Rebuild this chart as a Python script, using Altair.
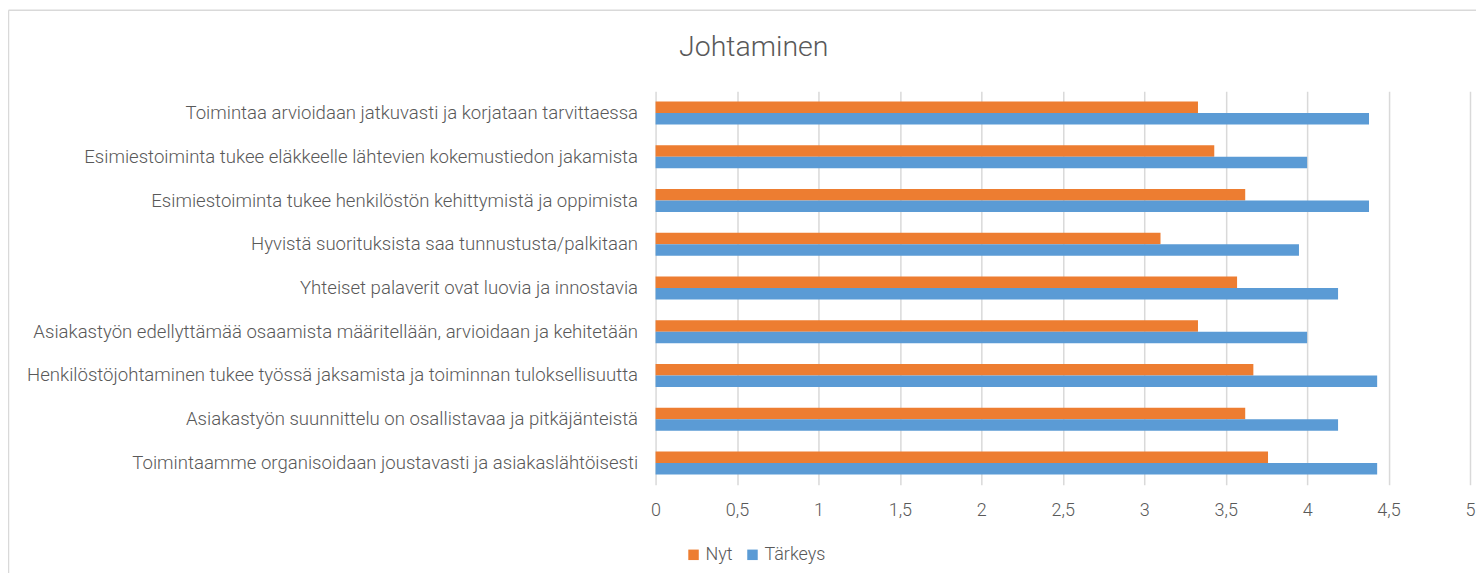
import altair as alt
import pandas as pd

categories = [
    "Toimintaa arvioidaan jatkuvasti ja korjataan tarvittaessa",
    "Esimiestoiminta tukee eläkkeelle lähtevien kokemustiedon jakamista",
    "Esimiestoiminta tukee henkilöstön kehittymistä ja oppimista",
    "Hyvistä suorituksista saa tunnustusta/palkitaan",
    "Yhteiset palaverit ovat luovia ja innostavia",
    "Asiakastyön edellyttämää osaamista määritellään, arvioidaan ja kehitetään",
    "Henkilöstöjohtaminen tukee työssä jaksamista ja toiminnan tuloksellisuutta",
    "Asiakastyön suunnittelu on osallistavaa ja pitkäjänteistä",
    "Toimintaamme organisoidaan joustavasti ja asiakaslähtöisesti",
]
nyt = [3.33, 3.43, 3.62, 3.10, 3.57, 3.33, 3.67, 3.62, 3.76]
tarkeys = [4.38, 4.00, 4.38, 3.95, 4.19, 4.00, 4.43, 4.19, 4.43]
series = ["Nyt", "Tärkeys"]
colors = ["#ED7D31", "#5B9BD5"]
ticks = [0, 0.5, 1, 1.5, 2, 2.5, 3, 3.5, 4, 4.5, 5]

rows = []
for c, a, b in zip(categories, nyt, tarkeys):
    rows.append({"kysymys": c, "sarja": series[0], "arvo": a})
    rows.append({"kysymys": c, "sarja": series[1], "arvo": b})
df = pd.DataFrame(rows)

font = "Roboto"
txt = "#595959"
fs = 18.6

bars = alt.Chart(df).mark_bar().encode(
    y=alt.Y(
        "kysymys:N", sort=categories, title=None,
        scale=alt.Scale(paddingInner=0.47, paddingOuter=0.235),
        axis=alt.Axis(domain=False, ticks=False, grid=False, labelPadding=18,
                      labelLimit=700, labelFontSize=fs, labelColor=txt,
                      labelFont=font, labelFontWeight=300),
    ),
    yOffset=alt.YOffset("sarja:N", sort=series, scale=alt.Scale(paddingInner=0, paddingOuter=0)),
    x=alt.X(
        "arvo:Q", title=None, scale=alt.Scale(domain=[0, 5], nice=False),
        axis=alt.Axis(values=ticks, domain=False, ticks=False, gridColor="#d9d9d9",
                      gridWidth=1.5, labelPadding=17, labelFontSize=18,
                      labelFlush=False, labelOverlap=False,
                      labelColor=txt, labelFont=font, labelFontWeight=300,
                      labelExpr="replace(toString(datum.value), '.', ',')"),
    ),
    color=alt.Color(
        "sarja:N", scale=alt.Scale(domain=series, range=colors),
        legend=alt.Legend(title=None, orient="none", direction="horizontal",
                          legendX=29, legendY=455, symbolType="square",
                          symbolSize=110, symbolStrokeWidth=0, labelFontSize=18,
                          labelColor=txt, labelFont=font, labelFontWeight=300,
                          columnPadding=10, labelOffset=3),
    ),
)

frame_data = alt.Data(values=[{"k": 1}])
left_edge = alt.Chart(frame_data).mark_rule(color="#d9d9d9", strokeWidth=1.5).encode(
    x=alt.value(-647.5), y=alt.value(-81), y2=alt.value(490)
)
top_edge = alt.Chart(frame_data).mark_rule(color="#d9d9d9", strokeWidth=1.5).encode(
    x=alt.value(-647.5), x2=alt.value(830), y=alt.value(-81)
)

chart = alt.layer(bars, left_edge, top_edge).properties(
    width=815,
    height=394,
    title=alt.TitleParams("Johtaminen", fontSize=28.5, font=font, fontWeight=300,
                          color=txt, anchor="middle", frame="bounds", offset=30,
                          dx=7, dy=82),
    autosize=alt.AutoSizeParams(type="none"),
    padding={"left": 648, "top": 83, "right": 6, "bottom": 88},
).configure_view(stroke=None)

chart.save("out.html", embed_options={"renderer": "svg", "actions": False})
